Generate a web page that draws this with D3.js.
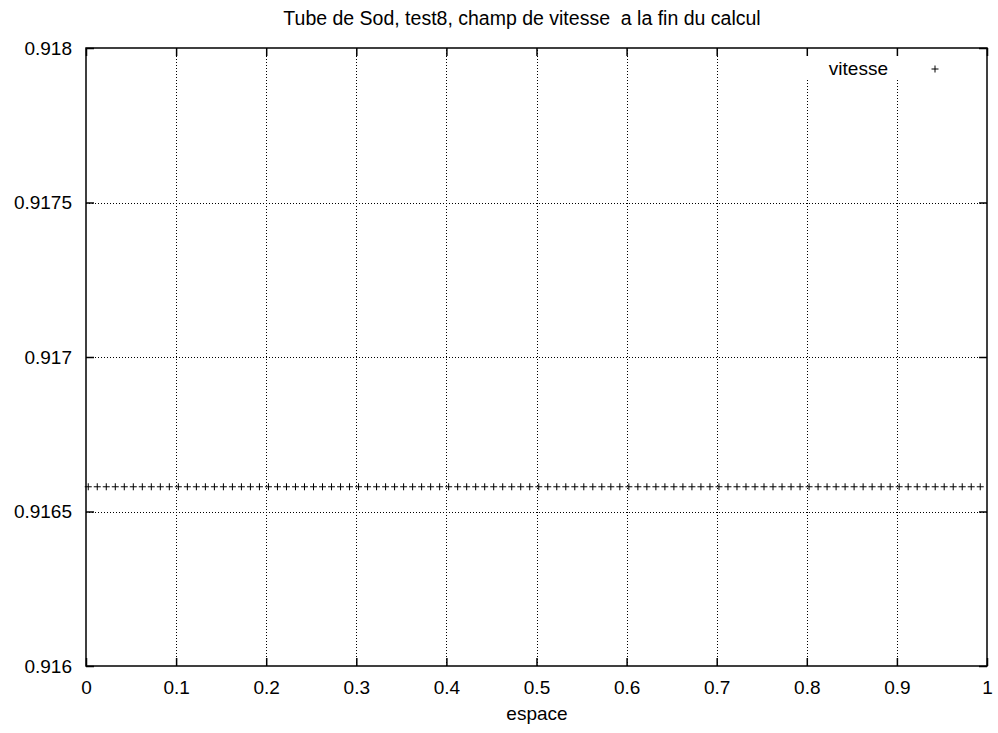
<!DOCTYPE html>
<html>
<head>
<meta charset="utf-8">
<script src="https://cdn.jsdelivr.net/npm/d3@7"></script>
<style>
  body { margin: 0; background: #fff; }
  text { font-family: "Liberation Sans", Arial, sans-serif; fill: #000; white-space: pre; }
</style>
</head>
<body>
<svg id="chart" width="998" height="733"></svg>
<script>
const title = "Tube de Sod, test8, champ de vitesse  a la fin du calcul";
const xLabel = "espace";
const seriesName = "vitesse";
const xTicks = [0, 0.1, 0.2, 0.3, 0.4, 0.5, 0.6, 0.7, 0.8, 0.9, 1];
const yTicks = [0.916, 0.9165, 0.917, 0.9175, 0.918];
const xValues = [
  0.0025, 0.0125, 0.0225, 0.0325, 0.0425, 0.0525, 0.0625, 0.0725, 0.0825, 0.0925,
  0.1025, 0.1125, 0.1225, 0.1325, 0.1425, 0.1525, 0.1625, 0.1725, 0.1825, 0.1925,
  0.2025, 0.2125, 0.2225, 0.2325, 0.2425, 0.2525, 0.2625, 0.2725, 0.2825, 0.2925,
  0.3025, 0.3125, 0.3225, 0.3325, 0.3425, 0.3525, 0.3625, 0.3725, 0.3825, 0.3925,
  0.4025, 0.4125, 0.4225, 0.4325, 0.4425, 0.4525, 0.4625, 0.4725, 0.4825, 0.4925,
  0.5025, 0.5125, 0.5225, 0.5325, 0.5425, 0.5525, 0.5625, 0.5725, 0.5825, 0.5925,
  0.6025, 0.6125, 0.6225, 0.6325, 0.6425, 0.6525, 0.6625, 0.6725, 0.6825, 0.6925,
  0.7025, 0.7125, 0.7225, 0.7325, 0.7425, 0.7525, 0.7625, 0.7725, 0.7825, 0.7925,
  0.8025, 0.8125, 0.8225, 0.8325, 0.8425, 0.8525, 0.8625, 0.8725, 0.8825, 0.8925,
  0.9025, 0.9125, 0.9225, 0.9325, 0.9425, 0.9525, 0.9625, 0.9725, 0.9825, 0.9925
];
const vitesse = [
  0.91658, 0.91658, 0.91658, 0.91658, 0.91658, 0.91658, 0.91658, 0.91658, 0.91658, 0.91658,
  0.91658, 0.91658, 0.91658, 0.91658, 0.91658, 0.91658, 0.91658, 0.91658, 0.91658, 0.91658,
  0.91658, 0.91658, 0.91658, 0.91658, 0.91658, 0.91658, 0.91658, 0.91658, 0.91658, 0.91658,
  0.91658, 0.91658, 0.91658, 0.91658, 0.91658, 0.91658, 0.91658, 0.91658, 0.91658, 0.91658,
  0.91658, 0.91658, 0.91658, 0.91658, 0.91658, 0.91658, 0.91658, 0.91658, 0.91658, 0.91658,
  0.91658, 0.91658, 0.91658, 0.91658, 0.91658, 0.91658, 0.91658, 0.91658, 0.91658, 0.91658,
  0.91658, 0.91658, 0.91658, 0.91658, 0.91658, 0.91658, 0.91658, 0.91658, 0.91658, 0.91658,
  0.91658, 0.91658, 0.91658, 0.91658, 0.91658, 0.91658, 0.91658, 0.91658, 0.91658, 0.91658,
  0.91658, 0.91658, 0.91658, 0.91658, 0.91658, 0.91658, 0.91658, 0.91658, 0.91658, 0.91658,
  0.91658, 0.91658, 0.91658, 0.91658, 0.91658, 0.91658, 0.91658, 0.91658, 0.91658, 0.91658
];

const W = 998, H = 733;
const m = { left: 86, right: 998 - 987, top: 48, bottom: 733 - 666 };
const fontSize = 19;
const svg = d3.select("#chart");

const x = d3.scaleLinear().domain([0, 1]).range([m.left, W - m.right]);
const y = d3.scaleLinear().domain([0.916, 0.918]).range([H - m.bottom, m.top]);

// grid
const grid = svg.append("g").attr("stroke", "#000").attr("stroke-width", 1)
  .attr("stroke-dasharray", "1,2");
grid.selectAll(".gx").data(xTicks.filter(d => d > 0 && d < 1)).join("line")
  .attr("x1", d => Math.round(x(d)) + 0.5).attr("x2", d => Math.round(x(d)) + 0.5)
  .attr("y1", y.range()[0]).attr("y2", y.range()[1]);
grid.selectAll(".gy").data(yTicks.filter(d => d > 0.916 && d < 0.918)).join("line")
  .attr("y1", d => Math.round(y(d)) + 0.5).attr("y2", d => Math.round(y(d)) + 0.5)
  .attr("x1", x.range()[0]).attr("x2", x.range()[1]);

// legend background (hides grid behind key)
svg.append("rect").attr("x", 800).attr("y", 52).attr("width", 180).attr("height", 27)
  .attr("fill", "#fff");

// axes with inward ticks
const tickLen = 8;
const fmtY = d => String(+d.toFixed(4));
const fmtX = d => String(+d.toFixed(1));
const axB = svg.append("g").attr("transform", `translate(0,${y.range()[0]})`)
  .call(d3.axisBottom(x).tickValues(xTicks).tickSize(-tickLen).tickPadding(15).tickFormat(fmtX));
const axT = svg.append("g").attr("transform", `translate(0,${y.range()[1]})`)
  .call(d3.axisTop(x).tickValues(xTicks).tickSize(-tickLen).tickFormat(""));
const axL = svg.append("g").attr("transform", `translate(${x.range()[0]},0)`)
  .call(d3.axisLeft(y).tickValues(yTicks).tickSize(-tickLen).tickPadding(14).tickFormat(fmtY));
const axR = svg.append("g").attr("transform", `translate(${x.range()[1]},0)`)
  .call(d3.axisRight(y).tickValues(yTicks).tickSize(-tickLen).tickFormat(""));
[axB, axT, axL, axR].forEach(a => {
  a.select(".domain").remove();
  a.selectAll("line").attr("stroke", "#000").attr("stroke-width", 1.5);
  a.selectAll("text").style("font-family", "'Liberation Sans', Arial, sans-serif")
    .style("font-size", fontSize + "px").attr("fill", "#000");
});

// frame
svg.append("rect").attr("x", x.range()[0]).attr("y", y.range()[1])
  .attr("width", x.range()[1] - x.range()[0]).attr("height", y.range()[0] - y.range()[1])
  .attr("fill", "none").attr("stroke", "#000").attr("stroke-width", 1.5);

// points (plus markers)
const pts = xValues.map((v, i) => ({ x: v, y: vitesse[i] }));
const ps = 3.5;
const plus = (cx, cy) => `M${cx - ps},${cy}H${cx + ps}M${cx},${cy - ps}V${cy + ps}`;
svg.append("g").selectAll("path").data(pts).join("path")
  .attr("d", d => plus(x(d.x), y(d.y)))
  .attr("stroke", "#000").attr("stroke-width", 1).attr("fill", "none");

// legend
svg.append("text").attr("x", 888).attr("y", 75).attr("text-anchor", "end")
  .style("font-size", fontSize + "px").text(seriesName);
svg.append("path").attr("d", plus(935, 69)).attr("stroke", "#000").attr("stroke-width", 1);

// title and axis label
svg.append("text").attr("x", 522).attr("y", 25).attr("text-anchor", "middle")
  .attr("xml:space", "preserve")
  .style("font-size", "19.5px").text(title);
svg.append("text").attr("x", 537).attr("y", 720).attr("text-anchor", "middle")
  .style("font-size", fontSize + "px").text(xLabel);
</script>
</body>
</html>
